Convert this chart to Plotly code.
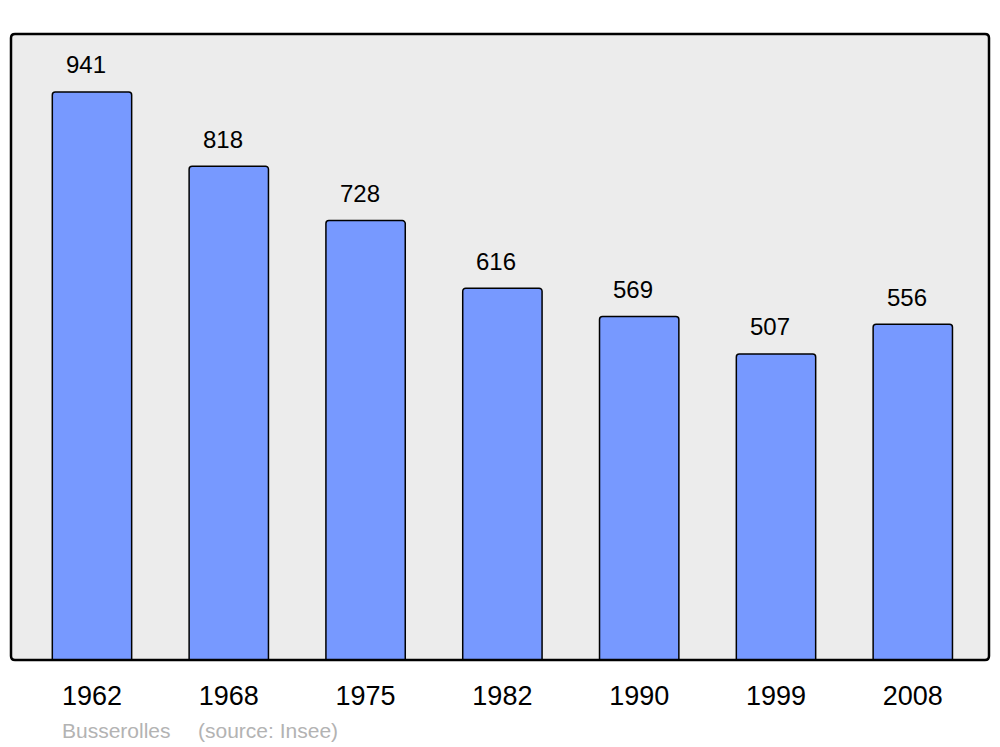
import plotly.graph_objects as go

years = ["1962", "1968", "1975", "1982", "1990", "1999", "2008"]
population = [941, 818, 728, 616, 569, 507, 556]
commune = "Busserolles"
source = "(source: Insee)"

W, H = 1000, 747
L, R, T, B = 11, 11, 34, 87

fig = go.Figure()
fig.add_trace(go.Bar(
    x=list(range(len(years))), y=population, width=0.58,
    marker=dict(color="#7799ff", line=dict(color="black", width=1.5), cornerradius=3),
    hoverinfo="skip",
))

for i, v in enumerate(population):
    fig.add_annotation(x=i, y=v, text=str(v), showarrow=False, xshift=-6, yshift=27,
                       yanchor="middle", font=dict(family="Liberation Sans, Arial", size=24, color="black"))

pw, ph = W - L - R, H - T - B
foot_y = -(730 - (H - B)) / ph
fig.add_annotation(x=(60 - L) / pw, y=foot_y, xref="paper", yref="paper",
                   text=commune, showarrow=False, xanchor="left", yanchor="middle",
                   font=dict(family="Liberation Sans, Arial", size=21, color="#b3b3b3"))
fig.add_annotation(x=(196 - L) / pw, y=foot_y, xref="paper", yref="paper",
                   text=source, showarrow=False, xanchor="left", yanchor="middle",
                   font=dict(family="Liberation Sans, Arial", size=21, color="#b3b3b3"))

# rounded plot frame
rx, ry = 4 / pw, 4 / ph
path = (f"M {rx},0 L {1-rx},0 Q 1,0 1,{ry} L 1,{1-ry} Q 1,1 {1-rx},1 "
        f"L {rx},1 Q 0,1 0,{1-ry} L 0,{ry} Q 0,0 {rx},0 Z")
fig.add_shape(type="path", path=path, xref="paper", yref="paper",
              line=dict(color="black", width=2.5), layer="above")

fig.update_layout(
    width=W, height=H,
    margin=dict(l=L, r=R, t=T, b=B),
    paper_bgcolor="white", plot_bgcolor="#ececec",
    showlegend=False,
    xaxis=dict(range=[-0.592, 6.557], tickmode="array", tickvals=list(range(len(years))),
               ticktext=years, showgrid=False, zeroline=False, showline=False, ticks="",
               ticklabelstandoff=17,
               tickfont=dict(family="Liberation Sans, Arial", size=27, color="black"), fixedrange=True),
    yaxis=dict(range=[0, 1037], showgrid=False, zeroline=False, showticklabels=False,
               showline=False, ticks="", fixedrange=True),
)

fig.write_html("out.html", config={"displayModeBar": False},
               post_script="document.body.style.margin='0';document.body.style.overflow='hidden';")
